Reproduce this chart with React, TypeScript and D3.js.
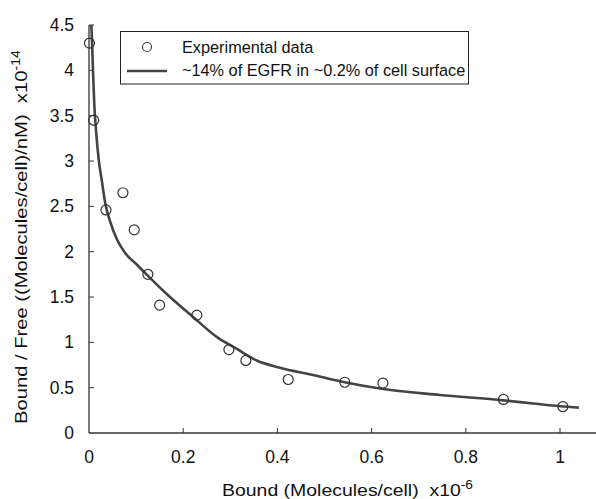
import React from "react";
import * as d3 from "d3";

const expX = [0.001, 0.010, 0.036, 0.072, 0.096, 0.125, 0.150, 0.229, 0.297, 0.333, 0.423, 0.543, 0.624, 0.880, 1.006];
const expY = [4.30, 3.45, 2.46, 2.65, 2.24, 1.75, 1.41, 1.30, 0.92, 0.80, 0.59, 0.56, 0.55, 0.37, 0.29];

const fitX = [0.005, 0.0065, 0.0085, 0.011, 0.015, 0.021, 0.027, 0.035, 0.045, 0.059, 0.076, 0.103, 0.122, 0.172, 0.221, 0.271, 0.313, 0.356, 0.405, 0.476, 0.543, 0.618, 0.745, 0.88, 0.943, 1.0, 1.04];
const fitY = [4.5, 4.3, 4.0, 3.65, 3.33, 3.0, 2.79, 2.52, 2.33, 2.14, 1.99, 1.85, 1.75, 1.50, 1.28, 1.06, 0.93, 0.80, 0.72, 0.64, 0.56, 0.49, 0.42, 0.36, 0.325, 0.295, 0.28];

const xTicks = [0, 0.2, 0.4, 0.6, 0.8, 1];
const yTicks = [0, 0.5, 1, 1.5, 2, 2.5, 3, 3.5, 4, 4.5];

const legendLabels = ["Experimental data", "~14% of EGFR in ~0.2% of cell surface"];

export default function App() {
  const W = 596, H = 499;
  const x = d3.scaleLinear().domain([0, 1]).range([89, 560]);
  const y = d3.scaleLinear().domain([0, 4.5]).range([433, 25]);
  const axisColor = "#333";
  const font = "'Liberation Sans', Arial, sans-serif";
  const line = d3.line<number>()
    .x((_, i) => x(fitX[i]))
    .y((d) => y(d))
    .curve(d3.curveMonotoneX);

  return (
    <svg width={W} height={H} style={{ position: "absolute", left: 0, top: 0, background: "#fff" }} fontFamily={font}>
      {/* axes */}
      <line x1={x(0)} x2={W} y1={y(0)} y2={y(0)} stroke={axisColor} strokeWidth={1.3} />
      <line x1={x(0)} x2={x(0)} y1={y(0)} y2={y(4.5)} stroke={axisColor} strokeWidth={1.3} />
      {xTicks.map((t) => (
        <g key={"x" + t}>
          {t !== 0 && <line x1={x(t)} x2={x(t)} y1={y(0)} y2={y(0) - 5} stroke={axisColor} strokeWidth={1} />}
          <text x={x(t)} y={463} textAnchor="middle" fontSize={17.5} fill="#111">{String(t)}</text>
        </g>
      ))}
      {yTicks.map((t) => (
        <g key={"y" + t}>
          {t !== 0 && <line x1={x(0)} x2={x(0) + 5} y1={y(t)} y2={y(t)} stroke={axisColor} strokeWidth={1} />}
          <text x={74} y={y(t) + 6} textAnchor="end" fontSize={17.5} fill="#111">{String(t)}</text>
        </g>
      ))}
      {/* axis titles */}
      <text x={222} y={496} fontSize={17} fill="#111" textLength={251} lengthAdjust="spacingAndGlyphs">
        {"Bound (Molecules/cell)\u00a0 x10"}<tspan dy={-7} fontSize={12}>-6</tspan>
      </text>
      <text transform="translate(27,424) rotate(-90)" fontSize={17} fill="#111" textLength={374} lengthAdjust="spacingAndGlyphs">
        {"Bound / Free ((Molecules/cell)/nM)\u00a0 x10"}<tspan dy={-7} fontSize={12}>-14</tspan>
      </text>
      {/* fit line */}
      <path d={line(fitY) || ""} fill="none" stroke="#444" strokeWidth={2.6} strokeLinejoin="round" />
      {/* data points */}
      {expX.map((v, i) => (
        <circle key={i} cx={x(v)} cy={y(expY[i])} r={5} fill="none" stroke="#333" strokeWidth={1.2} />
      ))}
      {/* legend */}
      <rect x={120.5} y={31.5} width={348} height={52.5} fill="#fff" stroke="#222" strokeWidth={1} />
      <circle cx={147} cy={47} r={4.5} fill="none" stroke="#333" strokeWidth={1.1} />
      <line x1={127} x2={167} y1={71} y2={71} stroke="#444" strokeWidth={2.6} />
      <text x={182} y={53} fontSize={16.3} fill="#111">{legendLabels[0]}</text>
      <text x={182} y={76} fontSize={16.3} fill="#111">{legendLabels[1]}</text>
    </svg>
  );
}
